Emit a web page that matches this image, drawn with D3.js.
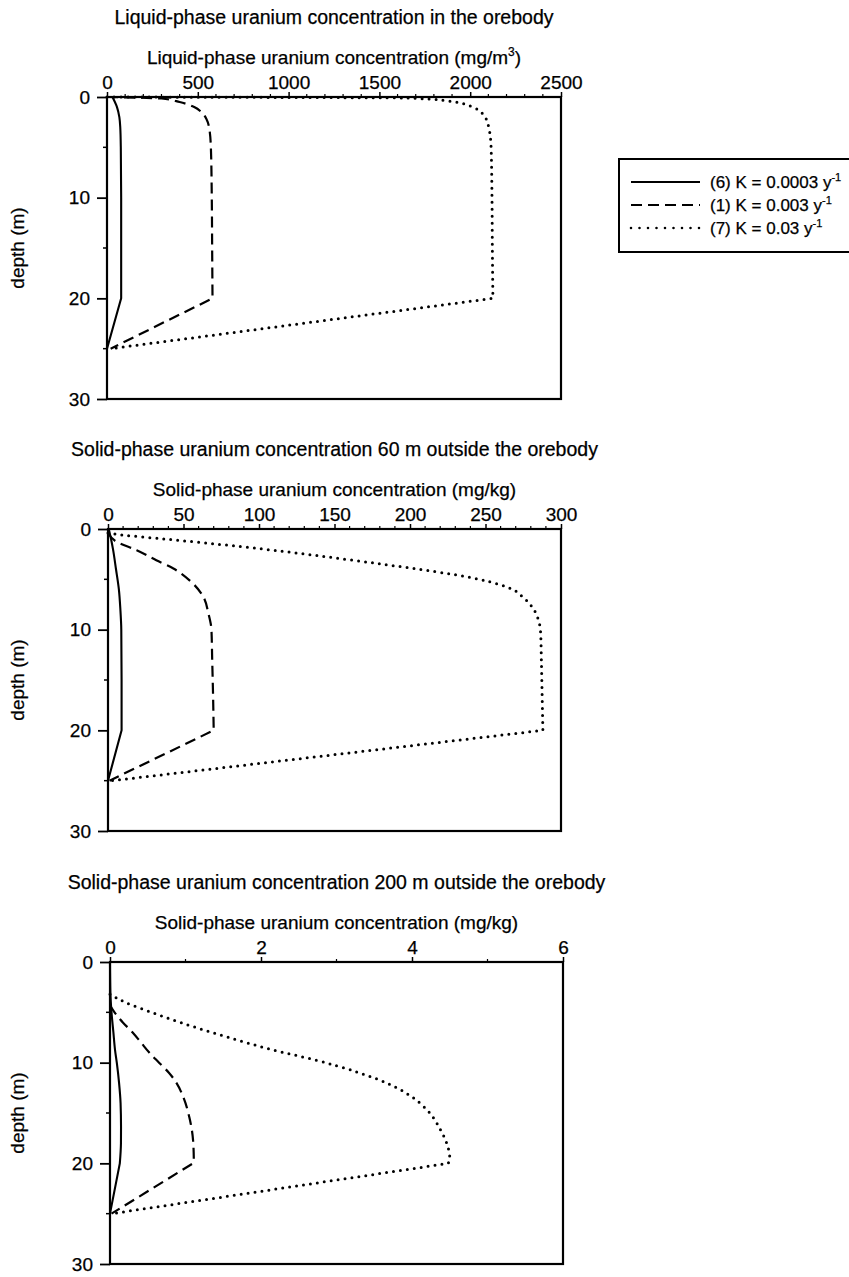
<!DOCTYPE html>
<html>
<head>
<meta charset="utf-8">
<script src="https://cdn.jsdelivr.net/npm/d3@7"></script>
<style>
  html, body { margin: 0; padding: 0; background: #fff; }
  svg text { font-family: "Liberation Sans", Arial, Helvetica, sans-serif; fill: #000; stroke: #000; stroke-width: 0.25px; }
</style>
</head>
<body>
<svg id="chart" width="849" height="1277"></svg>
<script>
// ---------------- data ----------------
const depthTicks = [0, 10, 20, 30];
const depthMinorTicks = [5, 15, 25];

const panelTitles = [
  "Liquid-phase uranium concentration in the orebody",
  "Solid-phase uranium concentration 60 m outside the orebody",
  "Solid-phase uranium concentration 200 m outside the orebody"
];
const axisLabelMain = [
  "Liquid-phase uranium concentration (mg/m",
  "Solid-phase uranium concentration (mg/kg)",
  "Solid-phase uranium concentration (mg/kg)"
];
const axisLabelSup = ["3", "", ""];
const axisLabelTail = [")", "", ""];

const xTicks1 = [0, 500, 1000, 1500, 2000, 2500];
const xTicks2 = [0, 50, 100, 150, 200, 250, 300];
const xTicks3 = [0, 2, 4, 6];
const xMinorStep = [100, 10, 1];

const legendLabels = ["(6) K = 0.0003 y", "(1) K = 0.003 y", "(7) K = 0.03 y"];
const legendSup = "-1";

// [depth (m), concentration]
// Panel 1: liquid phase in the orebody (mg/m3)
const p1K0003 = [[0,30],[1,55],[2,68],[3,73],[5,76],[10,78],[15,78],[20,78],[25,0]];
const p1K003  = [[0,0],[0.15,300],[0.5,400],[1,480],[1.5,520],[2.2,548],[3,562],[5,572],[10,577],[15,579],[20,581],[25,20]];
const p1K03   = [[0,0],[0.1,1650],[0.4,1880],[1,2015],[2,2082],[3,2102],[5,2115],[10,2120],[15,2122],[20,2125],[25,20]];
// Panel 2: solid phase 60 m outside (mg/kg)
const p2K0003 = [[0,0.5],[1,2],[2,3.3],[4,5.3],[6,7.2],[8,8.2],[10,8.8],[15,9],[20,9],[25,0]];
const p2K003  = [[0.4,0],[1.3,6],[2.1,19],[3.1,32],[3.9,43],[5.1,54],[6.7,63],[8.4,66.5],[10,68.5],[13,69],[16,69.5],[20,70],[25,1]];
const p2K03   = [[0.4,0],[0.6,10],[1,38],[1.5,72],[2,103],[2.5,131],[3,157],[3.5,182],[4,206],[4.5,228],[5,246],[5.5,259],[6,268],[6.8,275],[8,282],[9,285],[10.3,286.5],[13,287],[16.5,287.5],[20,288],[25,2.5]];
// Panel 3: solid phase 200 m outside (mg/kg)
const p3K0003 = [[0,0],[3,0.005],[5,0.02],[7,0.045],[8.7,0.066],[10,0.09],[12,0.12],[14,0.14],[16.4,0.146],[18,0.145],[20,0.13],[25,0]];
const p3K003  = [[4.3,0],[5,0.06],[6,0.17],[7,0.3],[8,0.41],[9,0.52],[10,0.65],[11,0.78],[12,0.88],[13.4,0.97],[15.4,1.05],[17.7,1.1],[19.7,1.11],[20,1.1],[25,0.02]];
const p3K03   = [[3.2,0],[4,0.2],[5,0.55],[6,0.93],[7,1.35],[8,1.8],[8.7,2.14],[9.7,2.7],[11,3.3],[12,3.66],[13.2,3.96],[14.7,4.2],[16.7,4.38],[18,4.46],[19.5,4.5],[20,4.48],[25,0.02]];

// ---------------- layout / styles ----------------
const panels = [
  { x0: 107, x1: 561, y0: 97,  max: 2500, ticks: xTicks1, series: [p1K0003, p1K003, p1K03] },
  { x0: 108, x1: 561, y0: 529, max: 300,  ticks: xTicks2, series: [p2K0003, p2K003, p2K03] },
  { x0: 110, x1: 563, y0: 962, max: 6,    ticks: xTicks3, series: [p3K0003, p3K003, p3K03] }
];
const panelH = 302;
const styles = [
  { width: 2.1, dash: null,     cap: "butt" },
  { width: 2.2, dash: "11,6",   cap: "butt" },
  { width: 3,   dash: "0,7",    cap: "round" }
];

const svg = d3.select("#chart");

panels.forEach((p, i) => {
  const x = d3.scaleLinear().domain([0, p.max]).range([p.x0, p.x1]);
  const y = d3.scaleLinear().domain([0, 30]).range([p.y0, p.y0 + panelH]);
  const g = svg.append("g");
  const cx = (p.x0 + p.x1) / 2;

  // title
  g.append("text").attr("x", cx).attr("y", p.y0 - 73)
    .attr("text-anchor", "middle").attr("font-size", 19.5)
    .text(panelTitles[i]);

  // x axis label
  const lab = g.append("text").attr("x", cx).attr("y", p.y0 - 33)
    .attr("text-anchor", "middle").attr("font-size", 19);
  lab.append("tspan").text(axisLabelMain[i]);
  if (axisLabelSup[i]) {
    lab.append("tspan").attr("font-size", 12).attr("dy", -8).text(axisLabelSup[i]);
    lab.append("tspan").attr("dy", 8).text(axisLabelTail[i]);
  }

  // depth label
  g.append("text")
    .attr("transform", `translate(24,${p.y0 + panelH / 2}) rotate(-90)`)
    .attr("text-anchor", "middle").attr("font-size", 19)
    .text("depth (m)");

  // top axis
  const xAxis = d3.axisTop(x).tickValues(p.ticks).tickSize(5).tickPadding(3.5)
    .tickFormat(d3.format("d"));
  const ga = g.append("g").attr("transform", `translate(0,${p.y0})`).call(xAxis);
  ga.select(".domain").remove();
  ga.selectAll("text").attr("font-size", 19).attr("font-family", "Liberation Sans, Arial, sans-serif");
  ga.selectAll("line").attr("stroke-width", 1.5);
  const minor = d3.range(0, p.max + 1e-9, xMinorStep[i]).filter(v => !p.ticks.includes(v));
  g.selectAll(".minx").data(minor).join("line")
    .attr("x1", d => x(d)).attr("x2", d => x(d))
    .attr("y1", p.y0).attr("y2", p.y0 - 3)
    .attr("stroke", "#000").attr("stroke-width", 1.2);

  // left axis
  const yAxis = d3.axisLeft(y).tickValues(depthTicks).tickSize(10).tickPadding(7);
  const gy = g.append("g").attr("transform", `translate(${p.x0},0)`).call(yAxis);
  gy.select(".domain").remove();
  gy.selectAll("text").attr("font-size", 19).attr("font-family", "Liberation Sans, Arial, sans-serif");
  gy.selectAll("line").attr("stroke-width", 1.8);
  g.selectAll(".miny").data(depthMinorTicks).join("line")
    .attr("x1", p.x0).attr("x2", p.x0 - 4)
    .attr("y1", d => y(d)).attr("y2", d => y(d))
    .attr("stroke", "#000").attr("stroke-width", 1.5);

  // series
  const lineCurve = d3.line().x(d => x(d[1])).y(d => y(d[0])).curve(d3.curveMonotoneY);
  const lineStraight = d3.line().x(d => x(d[1])).y(d => y(d[0]));
  p.series.forEach((data, k) => {
    const kink = data.findIndex(d => d[0] === 20);
    const upper = data.slice(0, kink + 1);
    const lower = data.slice(kink);
    const dstr = lineCurve(upper) + lineStraight(lower).replace(/^M/, "L");
    const s = styles[k];
    g.append("path").attr("d", dstr)
      .attr("fill", "none").attr("stroke", "#000")
      .attr("stroke-width", s.width)
      .attr("stroke-linecap", s.cap)
      .attr("stroke-linejoin", "round")
      .attr("stroke-dasharray", s.dash);
  });

  // frame
  g.append("rect").attr("x", p.x0).attr("y", p.y0)
    .attr("width", p.x1 - p.x0).attr("height", panelH)
    .attr("fill", "none").attr("stroke", "#000").attr("stroke-width", 2.2);
});

// legend
const lg = svg.append("g");
lg.append("rect").attr("x", 619).attr("y", 159).attr("width", 240).attr("height", 93)
  .attr("fill", "none").attr("stroke", "#000").attr("stroke-width", 2);
const legendRowsY = [182, 205, 228];
legendLabels.forEach((t, k) => {
  const s = styles[k];
  lg.append("line").attr("x1", 631).attr("x2", 700)
    .attr("y1", legendRowsY[k]).attr("y2", legendRowsY[k])
    .attr("stroke", "#000").attr("stroke-width", k === 2 ? 2.6 : s.width)
    .attr("stroke-linecap", s.cap).attr("stroke-dasharray", k === 2 ? "0,8.5" : s.dash);
  const tx = lg.append("text").attr("x", 710).attr("y", legendRowsY[k] + 6)
    .attr("font-size", 17);
  tx.append("tspan").text(t);
  tx.append("tspan").attr("font-size", 11).attr("dy", -7).text(legendSup);
});
</script>
</body>
</html>
